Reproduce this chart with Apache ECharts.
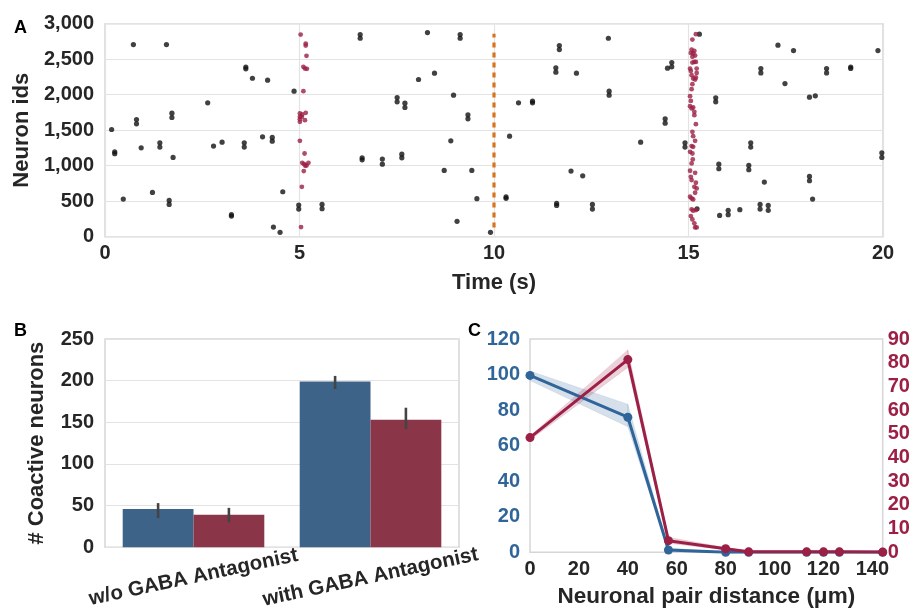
<!DOCTYPE html>
<html><head><meta charset="utf-8">
<script src="https://cdn.jsdelivr.net/npm/echarts@6/dist/echarts.min.js"></script>
<style>html,body{margin:0;padding:0;background:#fff}#c{width:914px;height:611px}</style>
</head><body><div id="c"></div>
<script>
// ---------- Panel A: raster ----------
const blackSpikes = [
[0.73,2706],[1.58,2706],[3.62,2390],[3.62,2365],[3.79,2232],[4.18,2204],[4.86,2050],[2.64,1885],[0.81,1651],[0.81,1590],[1.72,1740],[1.72,1679],[0.17,1510],[0.25,1195],[0.25,1170],[0.93,1252],[1.41,1323],[1.41,1262],[1.75,1116],[2.79,1276],[3.01,1332],[3.58,1323],[3.58,1262],[4.05,1407],[4.30,1398],[4.30,1346],[0.47,530],[1.22,624],[1.65,511],[1.65,455],[3.25,310],[3.25,290],[4.57,633],[4.33,136],[4.50,61],[4.98,446],[4.98,389],
[6.56,2847],[6.56,2795],[8.29,2875],[9.13,2847],[9.13,2795],[8.47,2303],[8.06,2214],[8.96,1993],[7.51,1960],[7.51,1899],[7.71,1881],[7.71,1820],[9.33,1717],[9.33,1660],[8.89,1351],[6.61,1111],[6.61,1083],[7.13,1093],[7.13,1022],[7.63,1163],[7.63,1111],[8.72,933],[9.43,933],[9.56,535],[5.58,455],[5.58,394],[9.05,216],[9.91,61],
[12.94,2795],[11.68,2692],[11.68,2636],[11.59,2378],[11.59,2317],[12.12,2303],[12.96,2050],[12.96,1993],[10.63,1885],[10.99,1909],[10.99,1885],[14.46,2373],[14.57,2453],[14.57,2392],[14.40,1660],[14.40,1599],[10.40,1416],[13.77,1332],[14.91,1323],[14.91,1262],[11.98,924],[12.28,858],[10.31,560],[10.31,540],[11.61,469],[11.61,441],[12.53,455],[12.53,389],
[15.28,2852],[17.30,2697],[17.70,2622],[19.87,2622],[16.86,2368],[16.86,2307],[18.55,2368],[18.55,2307],[19.17,2390],[19.17,2370],[17.48,2157],[15.70,1956],[15.70,1899],[18.11,1965],[18.26,1984],[16.60,1323],[16.60,1262],[19.97,1182],[19.97,1116],[15.78,1022],[15.78,957],[16.55,1004],[16.55,943],[16.95,769],[18.11,849],[18.11,788],[18.19,530],[15.22,394],[15.80,300],[16.02,371],[16.02,310],[16.32,380],[16.84,455],[16.84,389],[17.05,441],[17.05,371]
];
const burst5 = [
[5.03,2847],[5.16,2720],[5.16,2692],[5.18,2547],[5.10,2392],[5.14,2368],[5.19,2364],[5.10,2050],[5.01,1735],[5.07,1721],[5.16,1745],[5.01,1688],[5.01,1655],[5.01,1618],[5.14,1641],[5.06,1688],[5.01,1351],[5.13,1172],[5.07,1041],[5.12,1022],[5.18,1004],[5.23,1041],[5.15,999],[5.11,924],[5.06,703],[5.04,136]
];
const burst15 = [
[15.19,2852],[15.10,2776],[15.08,2636],[15.15,2617],[15.06,2589],[15.12,2580],[15.17,2551],[15.10,2533],[15.15,2462],[15.10,2453],[15.19,2462],[15.04,2368],[15.06,2335],[15.21,2368],[15.21,2307],[15.08,2275],[15.12,2228],[15.17,2214],[15.19,2242],[15.10,2148],[15.08,2078],[15.04,1979],[15.06,1913],[15.04,1838],[15.08,1806],[15.12,1820],[15.15,1759],[15.15,1712],[15.19,1585],[15.10,1477],[15.12,1416],[15.17,1351],[15.08,1276],[15.12,1266],[15.04,1196],[15.10,1172],[15.11,1088],[15.08,1032],[15.04,929],[15.06,844],[15.17,900],[15.08,797],[15.19,760],[15.15,703],[15.21,680],[15.17,619],[15.04,563],[15.08,539],[15.12,525],[15.08,385],[15.12,366],[15.19,375],[15.06,291],[15.10,244],[15.15,188],[15.17,131],[15.21,131]
];
const stimulusTime = 10;
const stimulusIdRange = [130, 2860];

// ---------- Panel B: bars ----------
const conditions = ['w/o GABA Antagonist', 'with GABA Antagonist'];
const barBlue = [46, 199];
const barRed = [39, 153];
const errBlueLow = [35, 190];
const errBlueHigh = [53, 205.7];
const errRedLow = [30, 141.7];
const errRedHigh = [47.3, 167.5];

// ---------- Panel C: distance ----------
const distances = [0, 40, 56.6, 80, 89.4, 113.1, 120, 126.5, 144.2];
const blueCount = [99.5, 76, 1.3, 0, 0, 0, 0, 0, 0];
const blueLow = [96.6, 70.7, 0.4, 0, 0, 0, 0, 0, 0];
const blueHigh = [102, 83.3, 2.4, 0.3, 0, 0, 0, 0, 0];
const redCount = [48.4, 81.3, 4.9, 1.5, 0.2, 0.2, 0.2, 0.2, 0.1];
const redLow = [47.4, 78.0, 3.8, 1.0, 0, 0, 0, 0, 0];
const redHigh = [49.1, 85.4, 6.3, 2.0, 0.4, 0.4, 0.4, 0.4, 0.3];

const xTicksA = [0, 20, 5];
const yTicksA = [0, 3000, 500];

const FONT = 'Liberation Sans, Arial, sans-serif';
const TXT = '#262626';
const BLUE = '#30659a';
const RED = '#9c1f45';
const BAR_BLUE = '#3e6389';
const BAR_RED = '#8b3549';
const GRIDC = '#e3e3e3';
const tick = (c) => ({color: c || TXT, fontFamily: FONT, fontWeight: 'bold', fontSize: 20});
const nameStyle = (c) => ({color: c || TXT, fontFamily: FONT, fontWeight: 'bold', fontSize: 22});

const chart = echarts.init(document.getElementById('c'), null, {renderer: 'canvas'});

function errSeries(low, high, sign) {
  return {
    type: 'custom', xAxisIndex: 1, yAxisIndex: 1, z: 5,
    data: low.map((l, i) => [i, l, high[i]]),
    encode: {x: 0, y: [1, 2]},
    renderItem: function (params, api) {
      const band = api.size([1, 0])[0];
      const off = sign * band * 0.2;
      const p0 = api.coord([api.value(0), api.value(1)]);
      const p1 = api.coord([api.value(0), api.value(2)]);
      return {type: 'line', shape: {x1: p0[0] + off, y1: p0[1], x2: p1[0] + off, y2: p1[1]},
        style: {stroke: '#444', lineWidth: 2.6}};
    }
  };
}

function bandSeries(yIdx, low, high, color) {
  return {
    type: 'custom', xAxisIndex: 2, yAxisIndex: yIdx, z: 1, silent: true,
    data: distances.map((d, i) => [d, low[i], high[i]]),
    encode: {x: 0, y: [1, 2]},
    renderItem: function (params, api) {
      const i = params.dataIndex;
      if (i >= distances.length - 1) return null;
      const pts = [
        api.coord([distances[i], low[i]]),
        api.coord([distances[i + 1], low[i + 1]]),
        api.coord([distances[i + 1], high[i + 1]]),
        api.coord([distances[i], high[i]])
      ];
      return {type: 'polygon', shape: {points: pts}, style: {fill: color, stroke: color, lineWidth: 0.5}};
    }
  };
}

const titleStyle = {fontFamily: FONT, fontWeight: 'bold', fontSize: 18, color: '#000'};

const option = {
  animation: false,
  backgroundColor: '#fff',
  textStyle: {fontFamily: FONT},
  title: [
    {text: 'A', left: 9, top: 14, textStyle: titleStyle},
    {text: 'B', left: 9, top: 317, textStyle: titleStyle},
    {text: 'C', left: 463, top: 317, textStyle: titleStyle}
  ],
  grid: [
    {left: 105, right: 31, top: 23.7, height: 213, show: true, borderColor: '#d6d6d6', borderWidth: 1.5},
    {left: 105, width: 354, top: 339, height: 213.3, show: true, borderColor: '#d6d6d6', borderWidth: 1.5},
    {left: 530, width: 352.7, top: 339, height: 213.3, show: true, borderColor: '#d6d6d6', borderWidth: 1.5}
  ],
  xAxis: [
    {gridIndex: 0, type: 'value', min: xTicksA[0], max: xTicksA[1], interval: xTicksA[2],
      axisLine: {show: false}, axisTick: {show: false},
      splitLine: {show: true, lineStyle: {color: GRIDC, width: 1.2}},
      axisLabel: Object.assign(tick(), {margin: 7}),
      name: 'Time (s)', nameLocation: 'middle', nameGap: 35, nameTextStyle: nameStyle()},
    {gridIndex: 1, type: 'category', data: conditions,
      axisLine: {show: false}, axisTick: {show: false}, splitLine: {show: false},
      axisLabel: Object.assign(tick(), {fontSize: 20.5, rotate: 12, align: 'center', verticalAlign: 'middle', margin: 30, interval: 0, hideOverlap: false})},
    {gridIndex: 2, type: 'value', min: 0, max: distances[distances.length - 1], interval: 20,
      axisLine: {show: false}, axisTick: {show: false}, splitLine: {show: false},
      axisLabel: Object.assign(tick(), {margin: 7, showMaxLabel: true, formatter: v => (Math.abs(v % 20) < 1e-6 ? String(v) : '')}),
      name: 'Neuronal pair distance (μm)', nameLocation: 'middle', nameGap: 33, nameTextStyle: Object.assign(nameStyle(), {fontSize: 22.5})}
  ],
  yAxis: [
    {gridIndex: 0, type: 'value', min: yTicksA[0], max: yTicksA[1], interval: yTicksA[2],
      axisLine: {show: false}, axisTick: {show: false},
      splitLine: {show: true, lineStyle: {color: GRIDC, width: 1.2}},
      axisLabel: Object.assign(tick(), {margin: 11, formatter: v => v.toLocaleString('en-US')}),
      name: 'Neuron ids', nameLocation: 'middle', nameGap: 70, nameTextStyle: nameStyle()},
    {gridIndex: 1, type: 'value', min: 0, max: 250, interval: 50,
      axisLine: {show: false}, axisTick: {show: false},
      splitLine: {show: true, lineStyle: {color: GRIDC, width: 1.2}},
      axisLabel: Object.assign(tick(), {margin: 11}),
      name: '# Coactive neurons', nameLocation: 'middle', nameGap: 57, nameTextStyle: nameStyle()},
    {gridIndex: 2, type: 'value', position: 'left', min: 0, max: 120, interval: 20,
      axisLine: {show: false}, axisTick: {show: false}, splitLine: {show: false},
      axisLabel: Object.assign(tick(BLUE), {margin: 10})},
    {gridIndex: 2, type: 'value', position: 'right', min: 0, max: 90, interval: 10,
      axisLine: {show: false}, axisTick: {show: false}, splitLine: {show: false},
      axisLabel: Object.assign(tick(RED), {margin: 5})}
  ],
  series: [
    {type: 'scatter', xAxisIndex: 0, yAxisIndex: 0, data: blackSpikes, symbolSize: 5.2, itemStyle: {color: '#111'}},
    {type: 'scatter', xAxisIndex: 0, yAxisIndex: 0, data: burst5, symbolSize: 4.8, itemStyle: {color: '#9b1f45'}},
    {type: 'scatter', xAxisIndex: 0, yAxisIndex: 0, data: burst15, symbolSize: 4.8, itemStyle: {color: '#9b1f45'}},
    {type: 'line', xAxisIndex: 0, yAxisIndex: 0, symbol: 'none',
      data: [[stimulusTime, stimulusIdRange[0]], [stimulusTime, stimulusIdRange[1]]],
      lineStyle: {color: '#d9741c', width: 3.2, type: [5, 5]}},

    {type: 'bar', xAxisIndex: 1, yAxisIndex: 1, data: barBlue, itemStyle: {color: BAR_BLUE}, barGap: '0%', barCategoryGap: '20%'},
    {type: 'bar', xAxisIndex: 1, yAxisIndex: 1, data: barRed, itemStyle: {color: BAR_RED}, barGap: '0%', barCategoryGap: '20%'},
    errSeries(errBlueLow, errBlueHigh, -1),
    errSeries(errRedLow, errRedHigh, 1),

    bandSeries(2, blueLow, blueHigh, 'rgba(48,101,154,0.2)'),
    bandSeries(3, redLow, redHigh, 'rgba(156,31,69,0.2)'),
    {type: 'line', xAxisIndex: 2, yAxisIndex: 2, data: distances.map((d, i) => [d, blueCount[i]]),
      symbol: 'circle', symbolSize: 9, lineStyle: {color: BLUE, width: 3}, itemStyle: {color: BLUE}, z: 3},
    {type: 'line', xAxisIndex: 2, yAxisIndex: 3, data: distances.map((d, i) => [d, redCount[i]]),
      symbol: 'circle', symbolSize: 9, lineStyle: {color: RED, width: 3}, itemStyle: {color: RED}, z: 4}
  ]
};
chart.setOption(option);
</script>
</body></html>
